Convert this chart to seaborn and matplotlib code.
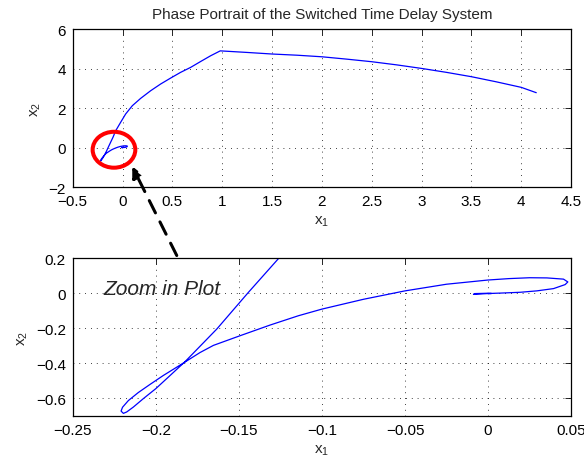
import numpy as np
import pandas as pd
import matplotlib
matplotlib.use('Agg')
import matplotlib.pyplot as plt
from matplotlib.patches import Ellipse, FancyArrowPatch
from matplotlib.ticker import FuncFormatter
import seaborn as sns

# ---- trajectory (x1, x2), in drawing order -------------------------------
# far arc: from the start point round to the corner near x1 = 1
arc_x1 = [4.15, 4.0, 3.75, 3.5, 3.25, 3.0, 2.75, 2.5, 2.25, 2.0, 1.75, 1.5, 1.25, 0.98]
arc_x2 = [2.78, 3.05, 3.33, 3.59, 3.81, 4.01, 4.19, 4.35, 4.48, 4.60, 4.68, 4.74, 4.82, 4.90]
# descent towards the origin
fall_x1 = [0.883, 0.783, 0.682, 0.582, 0.482, 0.382, 0.282, 0.181, 0.098, 0.031,
           -0.019, -0.069, -0.096, -0.126, -0.1443, -0.1633, -0.1824]
fall_x2 = [4.65, 4.36, 4.06, 3.81, 3.52, 3.22, 2.88, 2.49, 2.12, 1.70,
           1.28, 0.85, 0.52, 0.20, 0.005, -0.204, -0.390]
# thin loop at the bottom of the zoomed plot
loop_x1 = [-0.1914, -0.2000, -0.2075, -0.2135, -0.2175, -0.2195, -0.2209, -0.2200,
           -0.2165, -0.2105, -0.2035, -0.1955, -0.1880, -0.1824]
loop_x2 = [-0.469, -0.544, -0.601, -0.649, -0.677, -0.685, -0.672, -0.650,
           -0.612, -0.566, -0.520, -0.469, -0.425, -0.392]
# climb past x1 = 0.05 and the small curl at the origin
tail_x1 = [-0.1734, -0.1653, -0.1493, -0.1312, -0.1142, -0.100, -0.075, -0.050, -0.025,
           0.0, 0.0125, 0.025, 0.0354, 0.0454, 0.048, 0.0464, 0.0394, 0.0293,
           0.0193, 0.0092, 0.0002, -0.0088, -0.0080, 0.0, 0.002, 0.0]
tail_x2 = [-0.338, -0.297, -0.242, -0.181, -0.128, -0.090, -0.034, 0.014, 0.052,
           0.076, 0.084, 0.089, 0.088, 0.081, 0.065, 0.050, 0.027, 0.014,
           0.006, 0.002, -0.001, -0.006, -0.0015, 0.0005, -0.001, -0.002]

top_xticks = [-0.5, 0, 0.5, 1, 1.5, 2, 2.5, 3, 3.5, 4, 4.5]
top_yticks = [-2, 0, 2, 4, 6]
bot_xticks = [-0.25, -0.2, -0.15, -0.1, -0.05, 0, 0.05]
bot_yticks = [-0.6, -0.4, -0.2, 0, 0.2]

traj = pd.DataFrame({'x1': arc_x1 + fall_x1 + loop_x1 + tail_x1,
                     'x2': arc_x2 + fall_x2 + loop_x2 + tail_x2})

sns.set_style('white')
plt.rcParams['font.family'] = ['Liberation Sans', 'DejaVu Sans']
plt.rcParams['mathtext.default'] = 'regular'

fig = plt.figure(figsize=(5.84, 4.64), dpi=100)
ax1 = fig.add_axes([0.1245, 0.5948, 0.8535, 0.3402])
ax2 = fig.add_axes([0.1245, 0.1013, 0.8535, 0.3399])

matlab_fmt = FuncFormatter(lambda v, pos: ('%g' % v).replace('-', '\u2212'))

for ax in (ax1, ax2):
    sns.lineplot(data=traj, x='x1', y='x2', sort=False, estimator=None,
                 color='#0000ff', lw=0.9, ax=ax)
    ax.grid(True, color='k', lw=0.6, linestyle=(0, (1, 6)))
    ax.tick_params(direction='in', top=True, right=True, length=4, width=0.6,
                   labelsize=11, colors='k', pad=5)
    for s in ax.spines.values():
        s.set_visible(True)
        s.set_color('k')
        s.set_linewidth(0.9)
    ax.xaxis.set_major_formatter(matlab_fmt)
    ax.yaxis.set_major_formatter(matlab_fmt)
    ax.set_xlabel('$x_1$', fontsize=11, labelpad=4)
    ax.set_ylabel('$x_2$', fontsize=11, labelpad=4)

ax1.set_xlim(-0.5, 4.5)
ax1.set_ylim(-2, 6)
ax1.set_xticks(top_xticks)
ax1.set_yticks(top_yticks)
ax1.set_title('Phase Portrait of the Switched Time Delay System', fontsize=11, pad=8)

ax2.set_xlim(-0.25, 0.05)
ax2.set_ylim(-0.7, 0.2)
ax2.set_xticks(bot_xticks)
ax2.set_yticks(bot_yticks)
ax2.text(-0.2318, -0.005, 'Zoom in Plot', fontsize=15, style='italic',
         va='baseline', ha='left')

# red circle round the region that is enlarged below
ax1.add_patch(Ellipse((-0.086, -0.111), 0.428, 1.82, fill=False,
                      edgecolor='#ff0000', lw=2.9, zorder=5, clip_on=False))

# dashed pointer from the lower plot up to the circle
arrow = FancyArrowPatch((178 / 584, 1 - 259 / 464), (131 / 584, 1 - 165 / 464),
                        transform=fig.transFigure, arrowstyle='-|>',
                        mutation_scale=16, color='k', lw=2.2,
                        linestyle=(0, (4.5, 3.3)), zorder=10)
fig.add_artist(arrow)

fig.savefig('out.png', dpi=100)
